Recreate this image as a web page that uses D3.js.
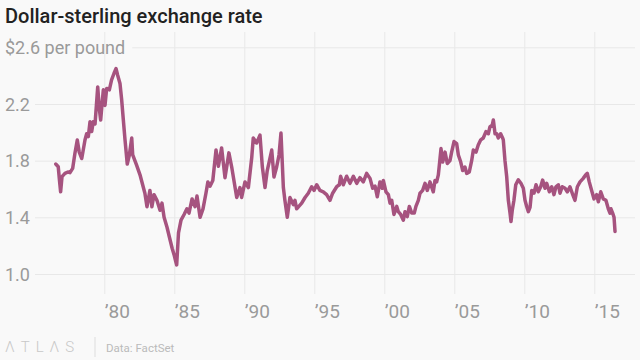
<!DOCTYPE html>
<html>
<head>
<meta charset="utf-8">
<script src="https://cdn.jsdelivr.net/npm/d3@7/dist/d3.min.js"></script>
<style>
  html, body { margin: 0; padding: 0; background: #f9f9f9; }
  svg { display: block; font-family: Roboto, "Noto Sans", sans-serif; }
</style>
</head>
<body>
<svg id="chart" width="640" height="360"></svg>
<script>
const title = "Dollar-sterling exchange rate";
const yUnitLabel = "$2.6 per pound";
const source = "Data: FactSet";
const yTicks = [1.0, 1.4, 1.8, 2.2, 2.6];
const xTicks = [1980, 1985, 1990, 1995, 2000, 2005, 2010, 2015];
const xTickLabels = ["’80", "’85", "’90", "’95", "’00", "’05", "’10", "’15"];

const years = [
  1976.53, 1976.71, 1976.80, 1976.88, 1976.98, 1977.19, 1977.40, 1977.55, 1977.74, 1977.90,
  1978.07, 1978.21, 1978.39, 1978.62, 1978.74, 1978.86, 1978.98, 1979.10, 1979.21, 1979.34,
  1979.53, 1979.64, 1979.74, 1979.93, 1980.05, 1980.17, 1980.36, 1980.52, 1980.69, 1980.84,
  1980.95, 1981.12, 1981.24, 1981.36, 1981.48, 1981.64, 1981.79, 1981.96, 1982.03, 1982.30,
  1982.55, 1982.90, 1983.05, 1983.26, 1983.40, 1983.55, 1983.76, 1983.98, 1984.12, 1984.27,
  1984.48, 1984.70, 1984.85, 1985.00, 1985.10, 1985.17, 1985.30, 1985.48, 1985.70, 1985.90,
  1986.05, 1986.27, 1986.48, 1986.62, 1986.84, 1987.05, 1987.26, 1987.40, 1987.55, 1987.75,
  1987.98, 1988.15, 1988.38, 1988.62, 1988.90, 1989.10, 1989.46, 1989.69, 1989.81, 1990.05,
  1990.29, 1990.53, 1990.64, 1990.88, 1991.12, 1991.29, 1991.48, 1991.64, 1991.96, 1992.12,
  1992.31, 1992.48, 1992.62, 1992.79, 1992.90, 1993.07, 1993.26, 1993.50, 1993.62, 1993.74,
  1994.10, 1994.34, 1994.57, 1994.81, 1994.98, 1995.17, 1995.40, 1995.64, 1995.88, 1996.12,
  1996.31, 1996.60, 1996.79, 1996.88, 1997.07, 1997.31, 1997.55, 1997.79, 1998.03, 1998.26,
  1998.50, 1998.74, 1998.98, 1999.17, 1999.34, 1999.50, 1999.69, 1999.86, 1999.93, 2000.12,
  2000.29, 2000.41, 2000.53, 2000.69, 2000.89, 2001.00, 2001.17, 2001.36, 2001.48, 2001.64,
  2001.79, 2001.96, 2002.14, 2002.26, 2002.43, 2002.55, 2002.74, 2002.91, 2003.07, 2003.26,
  2003.50, 2003.62, 2003.74, 2003.86, 2003.98, 2004.05, 2004.17, 2004.34, 2004.50, 2004.69,
  2004.81, 2004.98, 2005.17, 2005.29, 2005.46, 2005.60, 2005.76, 2005.89, 2006.07, 2006.24,
  2006.36, 2006.55, 2006.71, 2006.89, 2007.07, 2007.26, 2007.43, 2007.55, 2007.71, 2007.79,
  2007.91, 2008.03, 2008.14, 2008.31, 2008.45, 2008.50, 2008.62, 2008.74, 2008.86, 2008.98,
  2009.05, 2009.14, 2009.26, 2009.39, 2009.57, 2009.76, 2009.93, 2010.05, 2010.17, 2010.29,
  2010.41, 2010.53, 2010.69, 2010.84, 2011.00, 2011.17, 2011.31, 2011.48, 2011.60, 2011.79,
  2011.96, 2012.12, 2012.26, 2012.43, 2012.55, 2012.71, 2012.91, 2013.07, 2013.26, 2013.46,
  2013.62, 2013.79, 2013.98, 2014.21, 2014.39, 2014.50, 2014.64, 2014.81, 2014.98, 2015.17,
  2015.29, 2015.46, 2015.64, 2015.83, 2016.00, 2016.12, 2016.19, 2016.31, 2016.41, 2016.48
];
const rates = [
  1.776, 1.757, 1.66, 1.58, 1.687, 1.71, 1.72, 1.715, 1.745, 1.85,
  1.946, 1.86, 1.815, 1.946, 1.99, 1.97, 2.075, 2.005, 2.075, 2.06,
  2.32, 2.17, 2.087, 2.30, 2.19, 2.31, 2.30, 2.37, 2.415, 2.45,
  2.405, 2.345, 2.23, 2.087, 1.946, 1.776, 1.84, 1.96, 1.84, 1.77,
  1.70, 1.57, 1.475, 1.59, 1.475, 1.56, 1.52, 1.45, 1.50, 1.40,
  1.33, 1.24, 1.18, 1.13, 1.09, 1.064, 1.29, 1.38, 1.42, 1.46,
  1.43, 1.53, 1.475, 1.55, 1.40, 1.46, 1.57, 1.65, 1.62, 1.66,
  1.875, 1.76, 1.89, 1.68, 1.855, 1.755, 1.54, 1.61, 1.54, 1.65,
  1.61, 1.82, 1.96, 1.925, 1.98, 1.755, 1.61, 1.73, 1.875, 1.685,
  1.755, 1.84, 1.995, 1.61, 1.52, 1.40, 1.54, 1.49, 1.52, 1.46,
  1.50, 1.54, 1.57, 1.616, 1.59, 1.63, 1.59, 1.58, 1.56, 1.52,
  1.57, 1.616, 1.63, 1.69, 1.63, 1.69, 1.64, 1.69, 1.64, 1.68,
  1.65, 1.71, 1.675, 1.605, 1.62, 1.545, 1.65, 1.605, 1.66, 1.58,
  1.56, 1.50, 1.52, 1.42, 1.477, 1.44, 1.42, 1.38, 1.44, 1.405,
  1.477, 1.43, 1.43, 1.477, 1.52, 1.57, 1.59, 1.64, 1.59, 1.65,
  1.58, 1.66, 1.65, 1.70, 1.815, 1.885, 1.79, 1.86, 1.78, 1.80,
  1.86, 1.935, 1.92, 1.84, 1.79, 1.73, 1.755, 1.71, 1.72, 1.80,
  1.875, 1.86, 1.91, 1.947, 1.96, 2.005, 1.99, 2.04, 2.05, 2.087,
  1.99, 1.99, 1.96, 1.99, 1.96, 1.947, 1.80, 1.69, 1.52, 1.43,
  1.37, 1.45, 1.52, 1.63, 1.665, 1.64, 1.605, 1.52, 1.477, 1.44,
  1.47, 1.59, 1.57, 1.63, 1.58, 1.616, 1.663, 1.605, 1.64, 1.58,
  1.616, 1.56, 1.616, 1.63, 1.57, 1.616, 1.605, 1.58, 1.616, 1.56,
  1.52, 1.616, 1.65, 1.675, 1.70, 1.71, 1.65, 1.59, 1.53, 1.56,
  1.51, 1.58, 1.53, 1.52, 1.46, 1.43, 1.46, 1.43, 1.40, 1.30
];

const data = years.map((t, i) => ({ t, v: rates[i] }));

const svg = d3.select("#chart");
svg.append("rect").attr("width", 640).attr("height", 360).attr("fill", "#f9f9f9");

const x = d3.scaleLinear().domain([1980, 2015]).range([104.3, 594.3]);
const y = d3.scaleLinear().domain([1.0, 2.6]).range([274, 47.3]);

const gridColor = "#e8e8e8";
const labelColor = "#9a9a9a";

// vertical gridlines + x labels via axis
const xAxis = d3.axisBottom(x)
  .tickValues(xTicks)
  .tickSize(262)
  .tickFormat((d, i) => xTickLabels[i]);
const gx = svg.append("g").attr("transform", "translate(0,32)").call(xAxis);
gx.select(".domain").remove();
gx.selectAll(".tick line").attr("stroke", gridColor).attr("stroke-width", 1);
gx.selectAll(".tick text")
  .attr("y", 286)
  .attr("dy", null)
  .attr("x", 0)
  .attr("text-anchor", "start")
  .attr("fill", labelColor)
  .style("font-size", "19px")
  .style("font-family", "Roboto, sans-serif");

// horizontal gridlines + y labels
const yAxis = d3.axisRight(y)
  .tickValues(yTicks)
  .tickSize(600)
  .tickFormat(d => d === 2.6 ? yUnitLabel : d3.format(".1f")(d));
const gy = svg.append("g").attr("transform", "translate(35,0)").call(yAxis);
gy.select(".domain").remove();
gy.selectAll(".tick line").attr("stroke", gridColor).attr("stroke-width", 1);
gy.selectAll(".tick text")
  .attr("x", -30)
  .attr("dy", "0.35em")
  .attr("text-anchor", "start")
  .attr("fill", labelColor)
  .style("font-size", "18px")
  .style("font-family", "Roboto, sans-serif");
// top gridline starts after the unit label
gy.selectAll(".tick").filter(d => d === 2.6).each(function() {
  const t = d3.select(this).select("text").node();
  const w = t.getComputedTextLength();
  d3.select(this).select("line").attr("x1", -30 + w + 7).attr("x2", 600);
});

// line
const line = d3.line().x(d => x(d.t)).y(d => y(d.v));
svg.append("path")
  .datum(data)
  .attr("d", line)
  .attr("fill", "none")
  .attr("stroke", "#a6537f")
  .attr("stroke-width", 3.5)
  .attr("stroke-linejoin", "round")
  .attr("stroke-linecap", "round");

// title
svg.append("text")
  .attr("x", 5).attr("y", 23)
  .attr("fill", "#222")
  .style("font-size", "20px")
  .style("font-weight", 500)
  .text(title);

// footer
svg.append("text")
  .attr("x", 5).attr("y", 352)
  .attr("fill", "#c8c8c8")
  .style("font-size", "15px")
  .style("font-weight", 300)
  .style("letter-spacing", "6px")
  .text("ΛTLΛS");
svg.append("line")
  .attr("x1", 95).attr("x2", 95).attr("y1", 337).attr("y2", 357)
  .attr("stroke", "#dddddd");
svg.append("text")
  .attr("x", 106).attr("y", 352)
  .attr("fill", "#bbbbbb")
  .style("font-size", "11.5px")
  .text(source);
</script>
</body>
</html>
